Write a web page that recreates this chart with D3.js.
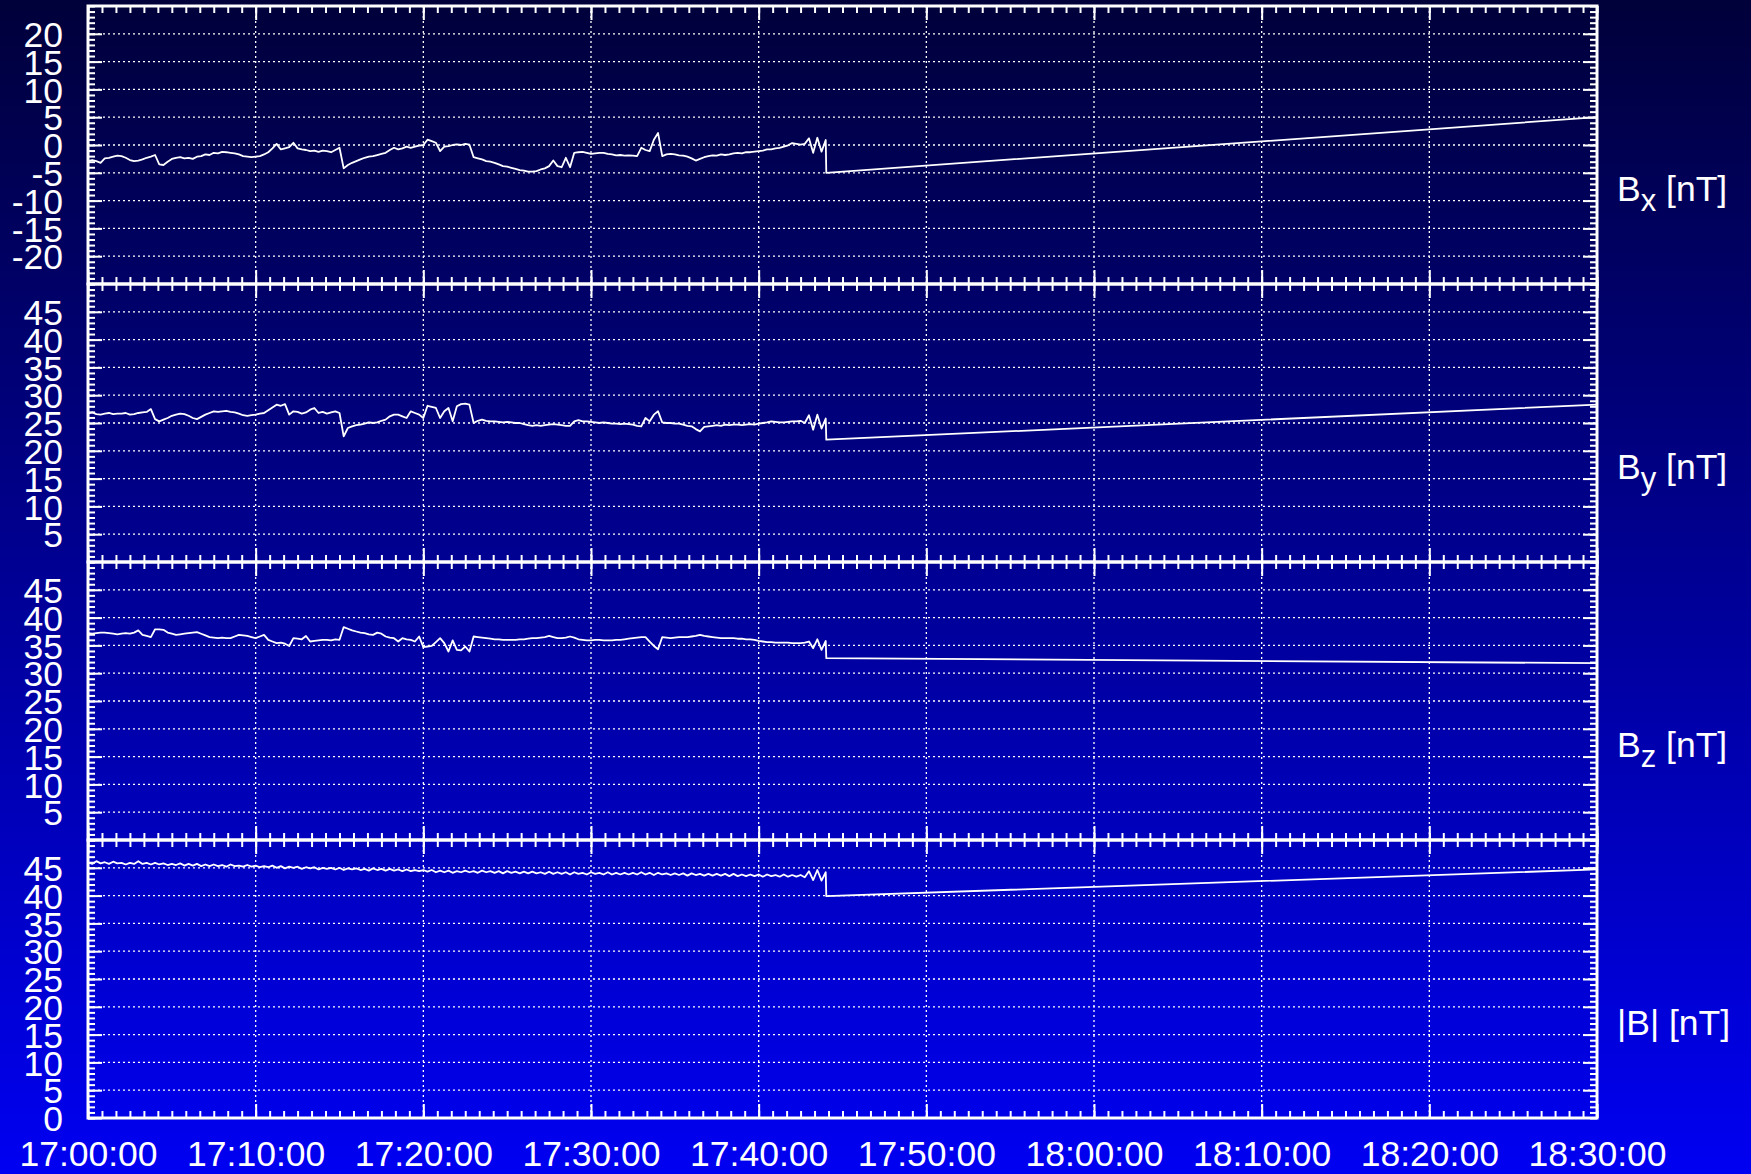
<!DOCTYPE html>
<html>
<head>
<meta charset="utf-8">
<title>Magnetic field components</title>
<script src="https://cdn.jsdelivr.net/npm/d3@7"></script>
<style>
  html, body { margin: 0; padding: 0; background: #000040; }
  svg { display: block; }
</style>
</head>
<body>
<svg id="chart" width="1751" height="1174"></svg>
<script>
// ---- Samples: 15 s cadence starting 17:00:00, values in nT ----
const sampleStart = "17:00:00";
const sampleStepSec = 15;

const bx = [
  -2.9, -2.7, -2.9, -3.2, -2.4, -2.3, -2.1, -1.9, -2.0, -2.3,
  -2.7, -2.9, -2.8, -2.6, -2.3, -2.1, -1.8, -3.5, -3.6, -3.0,
  -2.5, -2.3, -2.2, -2.4, -2.3, -2.5, -2.1, -2.0, -1.7, -1.8,
  -1.4, -1.5, -1.25, -1.3, -1.4, -1.5, -1.7, -2.0, -2.1, -2.2,
  -2.1, -2.0, -1.7, -1.3, -0.6, 0.2, -0.8, -0.6, -0.4, 0.4,
  -0.6, -0.8, -0.9, -1.1, -1.0, -1.25, -1.0, -1.1, -1.3, -0.9,
  -0.5, -4.2, -3.6, -3.2, -2.9, -2.6, -2.3, -2.1, -2.0, -1.8,
  -1.6, -1.4, -0.9, -0.5, -0.8, -0.6, -0.3, -0.5, -0.3, -0.1,
  0.0, 0.95, 0.7, 0.4, -1.1, -0.3, -0.2, 0.0, 0.1, 0.0,
  0.2, 0.05, -2.2, -2.4, -2.6, -2.9, -3.0, -3.2, -3.5, -3.8,
  -3.9, -4.1, -4.3, -4.5, -4.6, -4.8, -4.8, -4.7, -4.4, -4.2,
  -3.8, -2.8, -3.8, -4.0, -2.3, -4.0, -1.4, -1.3, -1.25, -1.4,
  -1.6, -1.5, -1.4, -1.4, -1.6, -1.7, -1.85, -1.8, -1.9, -1.85,
  -1.9, -2.0, -0.5, -0.9, -1.1, 0.95, 2.15, -2.0, -1.7, -1.6,
  -1.7, -1.85, -1.9, -2.1, -2.4, -2.8, -2.5, -2.2, -2.0, -1.85,
  -1.9, -1.7, -1.8, -1.7, -1.5, -1.4, -1.5, -1.3, -1.3, -1.2,
  -1.1, -1.0, -0.8, -0.8, -0.6, -0.5, -0.3, -0.05, 0.35, 0.2,
  0.05, 0.2, 1.2, -1.4, 1.3, -1.2, 0.9
];

const by = [
  26.7, 26.9, 26.6, 26.5, 26.7, 26.8, 26.6, 26.7, 26.7, 26.8,
  26.5, 26.6, 26.8, 26.9, 27.0, 27.5, 25.7, 25.3, 25.6, 25.9,
  26.3, 26.5, 26.7, 26.6, 26.3, 25.9, 25.7, 26.1, 26.5, 26.8,
  27.1, 27.0, 27.1, 27.2, 27.0, 26.9, 26.7, 26.4, 26.3, 26.4,
  26.5, 26.7, 26.8, 27.3, 27.8, 28.3, 28.1, 28.4, 26.5, 27.1,
  27.0, 26.7, 26.9, 27.4, 27.7, 26.8, 27.0, 26.7, 26.9, 27.1,
  26.8, 22.6, 24.1, 24.4, 24.6, 24.7, 24.9, 25.1, 25.0, 25.1,
  25.4, 25.6, 26.2, 26.5, 26.5, 26.2, 25.9, 27.1, 26.8, 26.5,
  25.9, 28.1, 27.9, 27.7, 25.9, 27.1, 27.7, 25.3, 28.0, 28.4,
  28.5, 28.3, 25.0, 25.4, 25.6, 25.4, 25.3, 25.3, 25.2, 25.1,
  25.2, 25.1, 25.0, 25.0, 24.8, 24.6, 24.5, 24.6, 24.5, 24.6,
  24.7, 24.8, 24.7, 24.6, 24.5, 24.5, 25.3, 25.5, 25.3, 25.3,
  25.2, 25.1, 25.0, 25.1, 25.0, 24.9, 24.9, 24.8, 24.9, 24.8,
  24.7, 24.5, 24.4, 25.9, 25.3, 26.5, 27.1, 25.1, 25.0, 25.0,
  24.9, 24.9, 24.7, 24.5, 24.4, 23.9, 23.5, 24.3, 24.4, 24.5,
  24.6, 24.5, 24.7, 24.6, 24.7, 24.7, 24.6, 24.7, 24.8, 24.7,
  24.9, 25.0, 25.1, 25.3, 25.2, 25.1, 25.1, 25.2, 25.3, 25.3,
  25.4, 25.0, 26.4, 23.8, 26.5, 24.0, 25.8
];

const bz = [
  37.2, 37.1, 37.2, 37.3, 37.3, 37.2, 37.1, 37.0, 37.1, 37.2,
  37.1, 37.3, 37.7, 36.9, 36.7, 36.5, 37.9, 37.9, 37.8, 37.3,
  37.1, 36.9, 37.0, 37.1, 37.2, 37.3, 37.4, 37.1, 36.8, 36.5,
  36.4, 36.3, 36.4, 36.3, 36.3, 36.6, 36.9, 36.8, 36.7, 36.5,
  36.3, 36.6, 36.9, 36.0, 35.7, 35.4, 35.5, 35.3, 34.9, 36.3,
  36.2, 36.1, 36.7, 35.7, 35.8, 35.9, 36.0, 36.0, 35.9, 36.1,
  36.0, 38.3, 38.0, 37.7, 37.5, 37.3, 37.2, 37.0, 36.9, 37.3,
  37.1, 36.6, 36.4, 36.3, 35.7, 36.3, 36.1, 36.0, 35.7, 36.6,
  34.7, 34.8, 34.9, 35.6, 36.3, 35.4, 33.9, 35.9, 34.2, 34.1,
  34.8, 33.9, 36.6, 36.5, 36.4, 36.3, 36.2, 36.1, 36.1, 36.0,
  36.0, 36.0, 36.0, 36.1, 36.1, 36.2, 36.3, 36.3, 36.4, 36.5,
  36.7, 36.5, 36.3, 36.3, 36.4, 36.6, 36.4, 36.1, 36.0, 35.9,
  35.9, 36.0, 36.0, 35.9, 35.9, 35.9, 36.0, 36.0, 36.1, 36.2,
  36.3, 36.4, 36.5, 36.5, 35.7, 34.9, 34.3, 36.5, 36.4, 36.3,
  36.4, 36.5, 36.5, 36.5, 36.6, 36.7, 36.9, 36.7, 36.6, 36.5,
  36.4, 36.3, 36.3, 36.3, 36.3, 36.2, 36.2, 36.1, 36.1, 36.0,
  35.8, 35.7, 35.6, 35.6, 35.5, 35.5, 35.5, 35.5, 35.4, 35.4,
  35.4, 35.5, 35.7, 34.5, 36.1, 34.2, 35.8
];

const bt = [
  46.0, 45.7, 46.2, 45.8, 46.0, 45.7, 46.1, 45.8, 45.9, 45.6,
  45.9, 45.7, 46.2, 45.7, 45.9, 45.6, 45.9, 45.6, 45.8, 45.5,
  45.7, 45.5, 45.8, 45.4, 45.7, 45.4, 45.7, 45.3, 45.6, 45.3,
  45.6, 45.3, 45.5, 45.2, 45.6, 45.3, 45.4, 45.2, 45.5, 45.2,
  45.4, 45.1, 45.3, 45.1, 45.4, 45.0, 45.3, 44.9, 45.2, 45.0,
  45.2, 44.8, 45.1, 44.9, 45.1, 44.7, 45.0, 44.8, 45.0, 44.7,
  45.0, 44.6, 44.9, 44.7, 44.9, 44.6, 44.8, 44.5, 44.9, 44.6,
  44.8, 44.5, 44.8, 44.5, 44.7, 44.4, 44.7, 44.4, 44.6, 44.4,
  44.6, 44.3, 44.6, 44.2, 44.5, 44.2, 44.5, 44.1, 44.4, 44.2,
  44.5, 44.2, 44.4, 44.1, 44.5, 44.2, 44.4, 44.1, 44.4, 44.0,
  44.4, 44.1, 44.3, 44.0, 44.3, 44.0, 44.3, 44.0, 44.2, 43.9,
  44.3, 43.9, 44.2, 43.9, 44.2, 43.8, 44.2, 43.9, 44.1, 43.8,
  44.2, 43.9, 44.1, 43.8, 44.2, 43.8, 44.1, 43.8, 44.1, 43.8,
  44.1, 43.8, 44.2, 43.8, 44.1, 43.7, 44.1, 43.8, 44.0, 43.7,
  44.0, 43.7, 44.0, 43.6, 44.0, 43.7, 43.9, 43.6, 43.9, 43.6,
  43.9, 43.6, 43.9, 43.5, 43.9, 43.5, 43.8, 43.5, 43.8, 43.5,
  43.8, 43.4, 43.8, 43.5, 43.7, 43.4, 43.8, 43.4, 43.7, 43.4,
  43.7, 43.3, 44.4, 42.8, 44.6, 42.7, 44.2
];

// Samples after the data gap (straight connection up to the end of the window)
const tailTimes = ["17:44:02", "18:30:00"];
const bxTail = [-5.0, 5.0];
const byTail = [22.0, 28.3];
const bzTail = [32.7, 31.8];
const btTail = [39.9, 44.7];

// ---- Axis ticks and labels ----
const xTickLabels = ["17:00:00", "17:10:00", "17:20:00", "17:30:00", "17:40:00",
                     "17:50:00", "18:00:00", "18:10:00", "18:20:00", "18:30:00"];
const xMinorStepSec = 50;

const bxTicks = [-20, -15, -10, -5, 0, 5, 10, 15, 20];
const byTicks = [5, 10, 15, 20, 25, 30, 35, 40, 45];
const bzTicks = [5, 10, 15, 20, 25, 30, 35, 40, 45];
const btTicks = [0, 5, 10, 15, 20, 25, 30, 35, 40, 45];

const bxDomain = [-25, 25];
const byDomain = [0, 50];
const bzDomain = [0, 50];
const btDomain = [0, 50];

const panelTitles = [
  { main: "B", sub: "x", unit: " [nT]" },
  { main: "B", sub: "y", unit: " [nT]" },
  { main: "B", sub: "z", unit: " [nT]" },
  { main: "|B|", sub: "", unit: " [nT]" }
];

// ---- Layout ----
const W = 1751, H = 1174;
const X0 = 88, X1 = 1597;
const TOP = 6, PANEL_H = 278;
const FONT = "'Liberation Sans', Arial, Helvetica, sans-serif";
const LABEL_SIZE = 35.5;

const svg = d3.select("#chart");

// Background: vertical navy-to-blue gradient
const defs = svg.append("defs");
const grad = defs.append("linearGradient")
  .attr("id", "bg").attr("gradientUnits", "userSpaceOnUse")
  .attr("x1", 0).attr("y1", 0).attr("x2", 0).attr("y2", H);
grad.append("stop").attr("offset", "0%").attr("stop-color", "#00003a");
grad.append("stop").attr("offset", "100%").attr("stop-color", "#0000f2");
svg.append("rect").attr("width", W).attr("height", H).attr("fill", "url(#bg)");

const parseT = d3.utcParse("%H:%M:%S");
const t0 = parseT(sampleStart);
const tEnd = parseT(xTickLabels[xTickLabels.length - 1]);
const x = d3.scaleUtc().domain([t0, tEnd]).range([X0, X1]);

const sampleTimes = bx.map((_, i) => new Date(t0.getTime() + i * sampleStepSec * 1000));
const tailT = tailTimes.map(parseT);

const xMajor = xTickLabels.map(parseT);
const xMinor = d3.range(0, (tEnd - t0) / 1000 + 1, xMinorStepSec)
  .map(s => new Date(t0.getTime() + s * 1000));

const panels = [
  { vals: bx, tail: bxTail, ticks: bxTicks, domain: bxDomain },
  { vals: by, tail: byTail, ticks: byTicks, domain: byDomain },
  { vals: bz, tail: bzTail, ticks: bzTicks, domain: bzDomain },
  { vals: bt, tail: btTail, ticks: btTicks, domain: btDomain }
];

function styleAxis(g, width) {
  g.attr("color", "#ffffff");
  g.select(".domain").remove();
  g.selectAll(".tick line").attr("stroke-width", width);
}

panels.forEach((p, k) => {
  const top = TOP + k * PANEL_H;
  const bottom = top + PANEL_H;
  const y = d3.scaleLinear().domain(p.domain).range([bottom, top]);
  const g = svg.append("g").attr("class", "panel");

  // dotted grid
  const grid = g.append("g")
    .attr("stroke", "#ffffff").attr("stroke-width", 1.3)
    .attr("stroke-dasharray", "2,3").attr("fill", "none");
  const majorsY = d3.range(p.domain[0], p.domain[1] + 0.001, 5)
    .filter(v => v > p.domain[0] && v < p.domain[1]);
  grid.selectAll("line.h").data(majorsY).join("line")
    .attr("class", "h")
    .attr("x1", X0).attr("x2", X1)
    .attr("y1", d => y(d)).attr("y2", d => y(d));
  grid.selectAll("line.v").data(xMajor.slice(1, -1)).join("line")
    .attr("class", "v")
    .attr("x1", d => x(d)).attr("x2", d => x(d))
    .attr("y1", top).attr("y2", bottom);

  // minor / major ticks on all four sides, pointing inward
  const minorY = d3.range(p.domain[0], p.domain[1] + 0.001, 1);
  g.append("g").attr("transform", `translate(${X0},0)`)
    .call(d3.axisLeft(y).tickValues(minorY).tickSize(-7).tickFormat(""))
    .call(s => styleAxis(s, 2));
  g.append("g").attr("transform", `translate(${X1},0)`)
    .call(d3.axisRight(y).tickValues(minorY).tickSize(-7).tickFormat(""))
    .call(s => styleAxis(s, 2));
  g.append("g").attr("transform", `translate(${X1},0)`)
    .call(d3.axisRight(y).tickValues(majorsY).tickSize(-14).tickFormat(""))
    .call(s => styleAxis(s, 2));
  g.append("g").attr("transform", `translate(${X0},0)`)
    .call(d3.axisLeft(y).tickValues(p.ticks).tickSize(-14).tickPadding(25)
      .tickFormat(d => String(d)))
    .call(s => styleAxis(s, 2))
    .call(s => s.selectAll("text")
      .attr("font-family", FONT).attr("font-size", LABEL_SIZE).attr("dy", "0.36em"));

  g.append("g").attr("transform", `translate(0,${top})`)
    .call(d3.axisTop(x).tickValues(xMinor).tickSize(-7).tickFormat(""))
    .call(s => styleAxis(s, 2));
  g.append("g").attr("transform", `translate(0,${top})`)
    .call(d3.axisTop(x).tickValues(xMajor).tickSize(-14).tickFormat(""))
    .call(s => styleAxis(s, 2));
  g.append("g").attr("transform", `translate(0,${bottom})`)
    .call(d3.axisBottom(x).tickValues(xMinor).tickSize(-7).tickFormat(""))
    .call(s => styleAxis(s, 2));
  const isLast = k === panels.length - 1;
  g.append("g").attr("transform", `translate(0,${bottom})`)
    .call(d3.axisBottom(x).tickValues(xMajor).tickSize(-14).tickPadding(23)
      .tickFormat((d, i) => isLast ? xTickLabels[i] : ""))
    .call(s => styleAxis(s, 2))
    .call(s => s.selectAll("text")
      .attr("font-family", FONT).attr("font-size", LABEL_SIZE));

  // data trace
  const pts = sampleTimes.map((t, i) => [t, p.vals[i]])
    .concat(tailT.map((t, i) => [t, p.tail[i]]));
  const line = d3.line().x(d => x(d[0])).y(d => y(d[1]));
  g.append("path").datum(pts)
    .attr("d", line)
    .attr("fill", "none").attr("stroke", "#ffffff")
    .attr("stroke-width", 1.8).attr("stroke-linejoin", "round");

  // frame
  g.append("rect")
    .attr("x", X0).attr("y", top).attr("width", X1 - X0).attr("height", PANEL_H)
    .attr("fill", "none").attr("stroke", "#ffffff").attr("stroke-width", 3);

  // panel title on the right
  const title = panelTitles[k];
  const txt = g.append("text")
    .attr("x", 1617).attr("y", top + 195)
    .attr("fill", "#ffffff").attr("font-family", FONT).attr("font-size", LABEL_SIZE);
  txt.append("tspan").text(title.main);
  if (title.sub) {
    txt.append("tspan").attr("font-size", 31).attr("dy", 10).text(title.sub);
    txt.append("tspan").attr("dy", -10).text(title.unit);
  } else {
    txt.append("tspan").text(title.unit);
  }
});
</script>
</body>
</html>
